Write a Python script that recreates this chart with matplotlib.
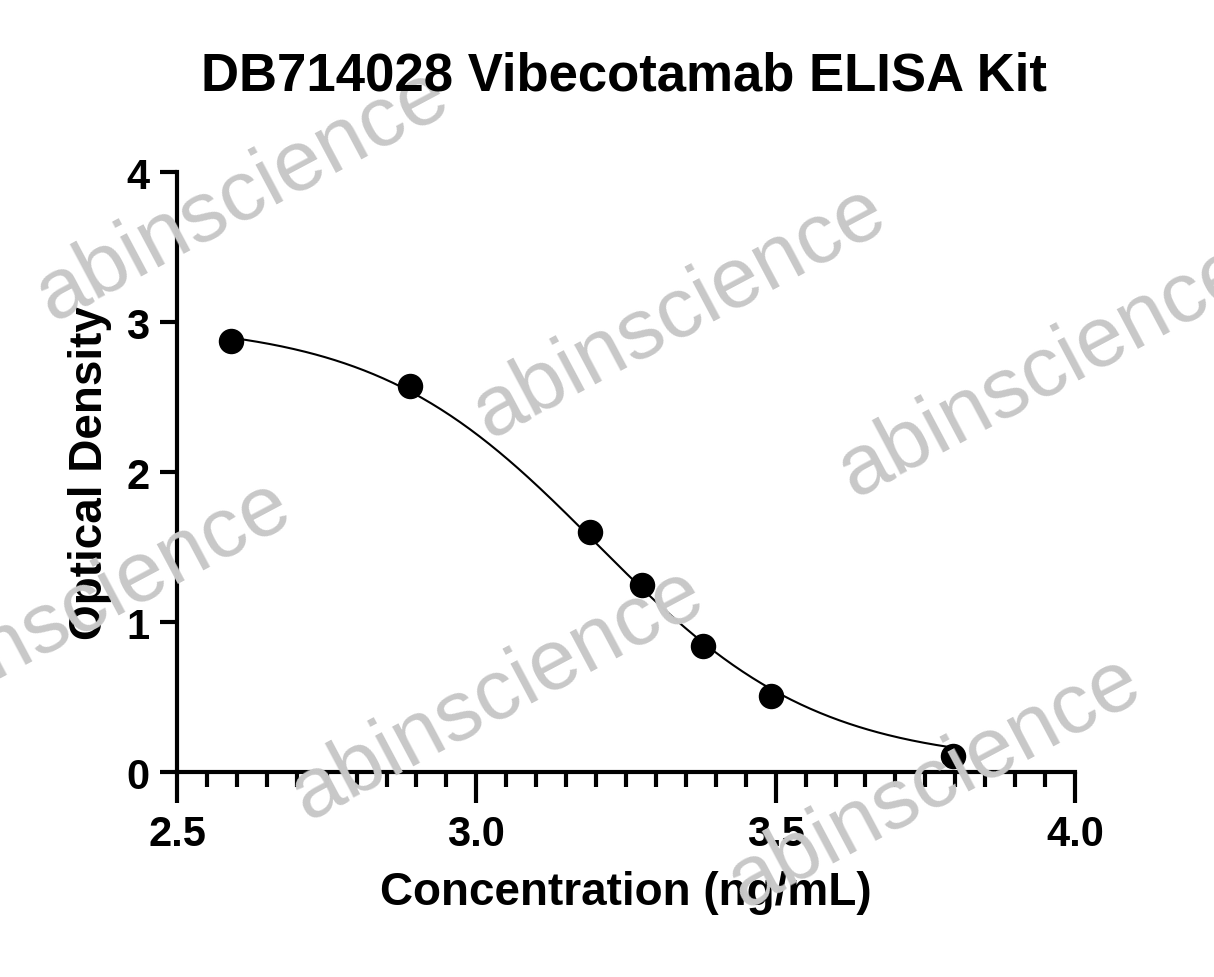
import numpy as np
import matplotlib
matplotlib.use("Agg")
import matplotlib.pyplot as plt
from matplotlib.ticker import MultipleLocator

conc = [2.59, 2.89, 3.19, 3.277, 3.379, 3.492, 3.796]
od = [2.873, 2.573, 1.60, 1.247, 0.84, 0.507, 0.107]
# 4PL fit parameters (estimated)
top, bottom, mid, hill = 3.0, 0.05, 3.2, 2.35

plt.rcParams['font.family'] = ['Liberation Sans', 'DejaVu Sans']
fig = plt.figure(figsize=(12.14, 9.78), dpi=100)
ax = fig.add_axes([0.1458, 0.2096, 0.7397, 0.6135])

# watermarks
wm = [(0.2, 0.8), (0.56, 0.68), (0.86, 0.62), (0.07, 0.38), (0.41, 0.29), (0.77, 0.2)]
for x, y in wm:
    fig.text(x, y, "abinscience", fontsize=62, color='#c8c8c8', rotation=28,
             ha='center', va='center', zorder=0)

xs = np.linspace(conc[0], conc[-1], 300)
ys = bottom + (top - bottom) / (1 + 10 ** ((xs - mid) * hill))
ax.plot(xs, ys, color='black', lw=1.5, zorder=3)
ax.scatter(conc, od, s=300, color='black', zorder=4)

ax.set_xlim(2.5, 4.0)
ax.set_ylim(0, 4)
ax.xaxis.set_major_locator(MultipleLocator(0.5))
ax.xaxis.set_minor_locator(MultipleLocator(0.05))
ax.yaxis.set_major_locator(MultipleLocator(1))
ax.xaxis.set_major_formatter(matplotlib.ticker.FormatStrFormatter('%.1f'))
for s in ['top', 'right']:
    ax.spines[s].set_visible(False)
for s in ['left', 'bottom']:
    ax.spines[s].set_linewidth(3)
ax.tick_params(which='major', length=22, width=3, labelsize=30, pad=8)
ax.tick_params(axis='y', which='major', length=12)
ax.tick_params(which='minor', length=11, width=3)
for lab in ax.get_xticklabels() + ax.get_yticklabels():
    lab.set_fontweight('bold')
ax.patch.set_alpha(0)
ax.set_xlabel("Concentration (ng/mL)", fontsize=33, fontweight='bold', labelpad=12)
ax.set_ylabel("Optical Density", fontsize=33, fontweight='bold', labelpad=10)
fig.text(0.514, 0.922, "DB714028 Vibecotamab ELISA Kit", fontsize=38,
         fontweight='bold', ha='center', va='center')
fig.savefig("out.png", dpi=100)
